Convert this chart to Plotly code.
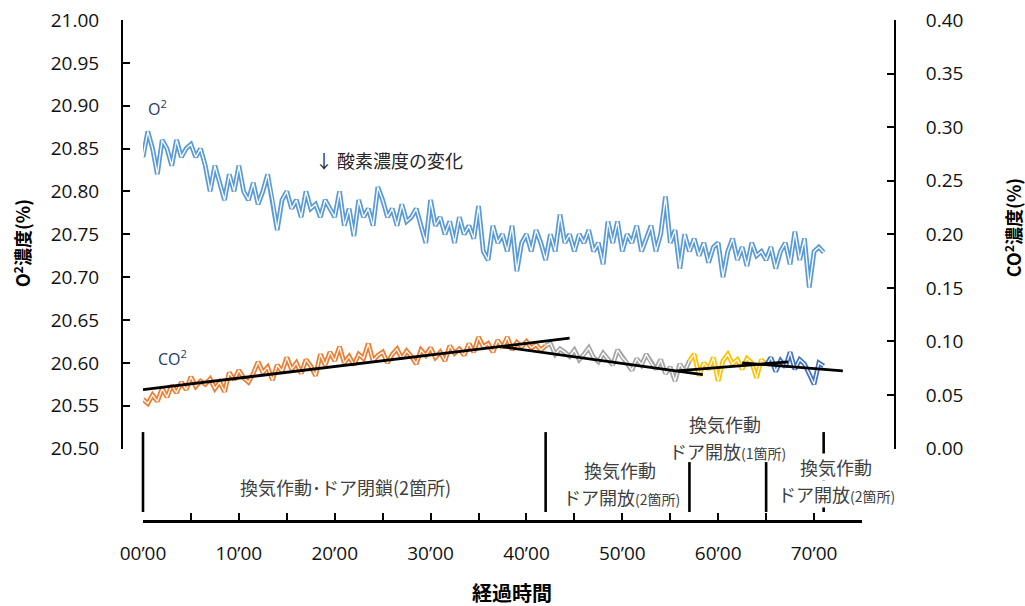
import plotly.graph_objects as go

# ---------------- data ----------------
step = 0.5  # minutes between samples

o2_start = 0.0
o2_values = [
    20.84, 20.87, 20.85, 20.82, 20.86, 20.85, 20.83, 20.86, 20.84, 20.85,
    20.855, 20.84, 20.85, 20.83, 20.80, 20.83, 20.81, 20.79, 20.82, 20.80,
    20.83, 20.80, 20.79, 20.81, 20.785, 20.80, 20.82, 20.79, 20.755, 20.79,
    20.80, 20.78, 20.79, 20.77, 20.80, 20.78, 20.785, 20.77, 20.79, 20.78,
    20.77, 20.80, 20.76, 20.78, 20.748, 20.79, 20.77, 20.78, 20.76, 20.805,
    20.79, 20.77, 20.78, 20.76, 20.785, 20.765, 20.77, 20.78, 20.76, 20.74,
    20.79, 20.76, 20.77, 20.75, 20.765, 20.74, 20.77, 20.75, 20.76, 20.745,
    20.783, 20.73, 20.72, 20.76, 20.74, 20.75, 20.73, 20.76, 20.707, 20.74,
    20.75, 20.73, 20.755, 20.74, 20.72, 20.75, 20.73, 20.773, 20.74, 20.75,
    20.73, 20.75, 20.74, 20.755, 20.73, 20.74, 20.715, 20.765, 20.74, 20.765,
    20.73, 20.75, 20.74, 20.76, 20.73, 20.745, 20.76, 20.73, 20.75, 20.794,
    20.74, 20.755, 20.71, 20.75, 20.73, 20.745, 20.725, 20.74, 20.717, 20.735,
    20.74, 20.70, 20.73, 20.745, 20.72, 20.735, 20.713, 20.74, 20.725, 20.73,
    20.72, 20.735, 20.71, 20.73, 20.74, 20.715, 20.753, 20.72, 20.745, 20.688,
    20.73, 20.735, 20.729,
]

co2_closed_start = 0.0   # 換気作動・ドア閉鎖(2箇所)
co2_closed = [
    0.046, 0.042, 0.050, 0.044, 0.056, 0.048, 0.059, 0.052, 0.062, 0.055,
    0.067, 0.058, 0.063, 0.060, 0.065, 0.056, 0.062, 0.053, 0.071, 0.064,
    0.073, 0.066, 0.062, 0.070, 0.081, 0.071, 0.076, 0.064, 0.078, 0.072,
    0.085, 0.074, 0.080, 0.070, 0.083, 0.077, 0.068, 0.088, 0.078, 0.090,
    0.082, 0.095, 0.080, 0.086, 0.078, 0.088, 0.084, 0.098, 0.082, 0.087,
    0.090, 0.080, 0.088, 0.093, 0.084, 0.091, 0.086, 0.079, 0.092, 0.087,
    0.094, 0.085, 0.090, 0.082, 0.096, 0.089, 0.093, 0.087, 0.098, 0.090,
    0.104, 0.095, 0.098, 0.090, 0.101, 0.094, 0.104, 0.092, 0.099, 0.095,
    0.100, 0.094, 0.097, 0.092, 0.096,
]
co2_open2a_start = 42.0  # ドア開放(2箇所)
co2_open2a = [
    0.096, 0.098, 0.088, 0.093, 0.090, 0.086, 0.092, 0.083, 0.088, 0.094,
    0.085, 0.081, 0.089, 0.084, 0.078, 0.092, 0.085, 0.080, 0.073, 0.084,
    0.078, 0.088, 0.080, 0.074, 0.083, 0.070, 0.076, 0.063, 0.079, 0.072,
    0.082,
]
co2_open1_start = 57.0   # ドア開放(1箇所)
co2_open1 = [
    0.082, 0.088, 0.068, 0.080, 0.074, 0.085, 0.063, 0.082, 0.088, 0.079,
    0.083, 0.074, 0.084, 0.080, 0.066, 0.083, 0.078,
]
co2_open2b_start = 65.0  # ドア開放(2箇所)
co2_open2b = [
    0.078, 0.085, 0.072, 0.082, 0.076, 0.090, 0.074, 0.083, 0.079, 0.070,
    0.060, 0.080, 0.077,
]

# trend lines (start/end in minutes, CO2 %)
trend_closed_x = [0.0, 44.5]
trend_closed_y = [0.055, 0.103]
trend_open2a_x = [37.5, 58.4]
trend_open2a_y = [0.095, 0.069]
trend_open1_x = [55.7, 67.3]
trend_open1_y = [0.0726, 0.0809]
trend_open2b_x = [62.5, 73.0]
trend_open2b_y = [0.080, 0.0726]

# period boundaries (minutes)
divider_times = [0, 42, 57, 65, 71]

tick_vals = [0, 10, 20, 30, 40, 50, 60, 70]
tick_text = ["00’00", "10’00", "20’00", "30’00", "40’00", "50’00", "60’00", "70’00"]
o2_ticks = [20.50, 20.55, 20.60, 20.65, 20.70, 20.75, 20.80, 20.85, 20.90, 20.95, 21.00]
co2_ticks = [0.00, 0.05, 0.10, 0.15, 0.20, 0.25, 0.30, 0.35, 0.40]

# ---------------- layout helpers (pixel -> paper) ----------------
PX_L, PX_R, PX_T, PX_B = 122, 895, 19.5, 521
X_DOM = [(143 - PX_L) / (PX_R - PX_L), (862 - PX_L) / (PX_R - PX_L)]
X_RANGE = [0, 75]


def px(xp):
    return (xp - PX_L) / (PX_R - PX_L)


def py(yp):
    return (PX_B - yp) / (PX_B - PX_T)


def t2paper(t):
    return X_DOM[0] + (t - X_RANGE[0]) / (X_RANGE[1] - X_RANGE[0]) * (X_DOM[1] - X_DOM[0])


def times(start, vals):
    return [start + i * step for i in range(len(vals))]


fig = go.Figure()


def outlined(x, y, color, yaxis):
    fig.add_trace(go.Scatter(x=x, y=y, mode="lines", yaxis=yaxis, showlegend=False,
                             line=dict(color=color, width=4.8), hoverinfo="skip"))
    fig.add_trace(go.Scatter(x=x, y=y, mode="lines", yaxis=yaxis, showlegend=False,
                             line=dict(color="white", width=1.3), hoverinfo="skip"))


outlined(times(o2_start, o2_values), o2_values, "#5B9BD5", "y")
outlined(times(co2_closed_start, co2_closed), co2_closed, "#ED7D31", "y2")
outlined(times(co2_open2a_start, co2_open2a), co2_open2a, "#A5A5A5", "y2")
outlined(times(co2_open1_start, co2_open1), co2_open1, "#FFC000", "y2")
outlined(times(co2_open2b_start, co2_open2b), co2_open2b, "#4472C4", "y2")

for tx, ty in [(trend_closed_x, trend_closed_y), (trend_open2a_x, trend_open2a_y),
               (trend_open1_x, trend_open1_y), (trend_open2b_x, trend_open2b_y)]:
    fig.add_trace(go.Scatter(x=tx, y=ty, mode="lines", yaxis="y2", showlegend=False,
                             line=dict(color="black", width=2.8), hoverinfo="skip"))

# divider lines
div_tops = [432, 432, 462, 462, 432]
for t, top in zip(divider_times, div_tops):
    xp = t2paper(t)
    fig.add_shape(type="line", xref="paper", yref="paper", x0=xp, x1=xp,
                  y0=py(top), y1=py(512), line=dict(color="black", width=2.6))

tick_font = dict(family="Open Sans, sans-serif", size=19, color="#111111")
jp = "Noto Sans CJK JP, sans-serif"

fig.update_layout(
    width=1025, height=606,
    margin=dict(l=PX_L, r=1025 - PX_R, t=PX_T, b=606 - PX_B, autoexpand=False),
    paper_bgcolor="white", plot_bgcolor="white",
    xaxis=dict(domain=X_DOM, range=X_RANGE, anchor="free", position=0,
               tickmode="array", tickvals=tick_vals, ticktext=tick_text,
               ticks="inside", ticklen=7, tickwidth=2, tickcolor="black",
               minor=dict(tickmode="linear", tick0=5, dtick=10, ticks="inside",
                          ticklen=7, tickwidth=2, tickcolor="black", showgrid=False),
               showline=True, linecolor="black", linewidth=2.5,
               showgrid=False, zeroline=False, tickfont=tick_font,
               ticklabelstandoff=14, automargin=False),
    yaxis=dict(domain=[py(448.5), 1], range=[20.50, 21.00], anchor="free", position=0,
               tickmode="array", tickvals=o2_ticks,
               ticktext=[f"{v:.2f}" for v in o2_ticks],
               ticks="inside", ticklen=7, tickwidth=1.5, tickcolor="black",
               showline=True, linecolor="black", linewidth=2,
               showgrid=False, zeroline=False, tickfont=tick_font,
               ticklabelstandoff=18, automargin=False),
    yaxis2=dict(overlaying="y", side="right", range=[0.0, 0.40], anchor="free", position=1,
                tickmode="array", tickvals=co2_ticks,
                ticktext=[f"{v:.2f}" for v in co2_ticks],
                ticks="inside", ticklen=7, tickwidth=1.5, tickcolor="black",
                showline=True, linecolor="black", linewidth=2,
                showgrid=False, zeroline=False, tickfont=tick_font,
                ticklabelstandoff=26, automargin=False),
)


def note(text, xp, yp, size=18, color="#404040", bold=False, angle=0, bg=None, family=jp):
    if bold:
        text = f"<b>{text}</b>"
    fig.add_annotation(text=text, xref="paper", yref="paper", x=px(xp), y=py(yp),
                       xanchor="center", yanchor="middle", showarrow=False,
                       textangle=angle, bgcolor=bg, borderpad=0,
                       font=dict(family=family, size=size, color=color))


small = "<span style='font-size:14px'>"
note("O<sup>2</sup>", 157, 108, size=16, color="#1F3864", family="Open Sans, sans-serif")
note("CO<sup>2</sup>", 172, 358, size=16, color="#1F3864", family="Open Sans, sans-serif")
note("↓ 酸素濃度の変化", 389, 160, size=18, color="#262626")
note("換気作動･ドア閉鎖(2箇所)", 345, 487, size=18)
note("換気作動", 620, 470, size=18)
note(f"ドア開放{small}(2箇所)</span>", 621, 497, size=18)
note("換気作動", 725, 424, size=18)
note(f"ドア開放{small}(1箇所)</span>", 727, 451, size=18)
note("換気作動", 836, 467, size=18, bg="white")
note(f"ドア開放{small}(2箇所)</span>", 836, 494, size=18, bg="white")
note("経過時間", 512, 593, size=20, color="black", bold=True)
note("O<sup>2</sup>濃度(%)", 22, 243, size=18, color="black", bold=True, angle=-90)
note("CO<sup>2</sup>濃度(%)", 1013, 228, size=18, color="black", bold=True, angle=-90)

fig.write_html("out.html", config={"displayModeBar": False},
               post_script="document.body.style.margin='0px';")
